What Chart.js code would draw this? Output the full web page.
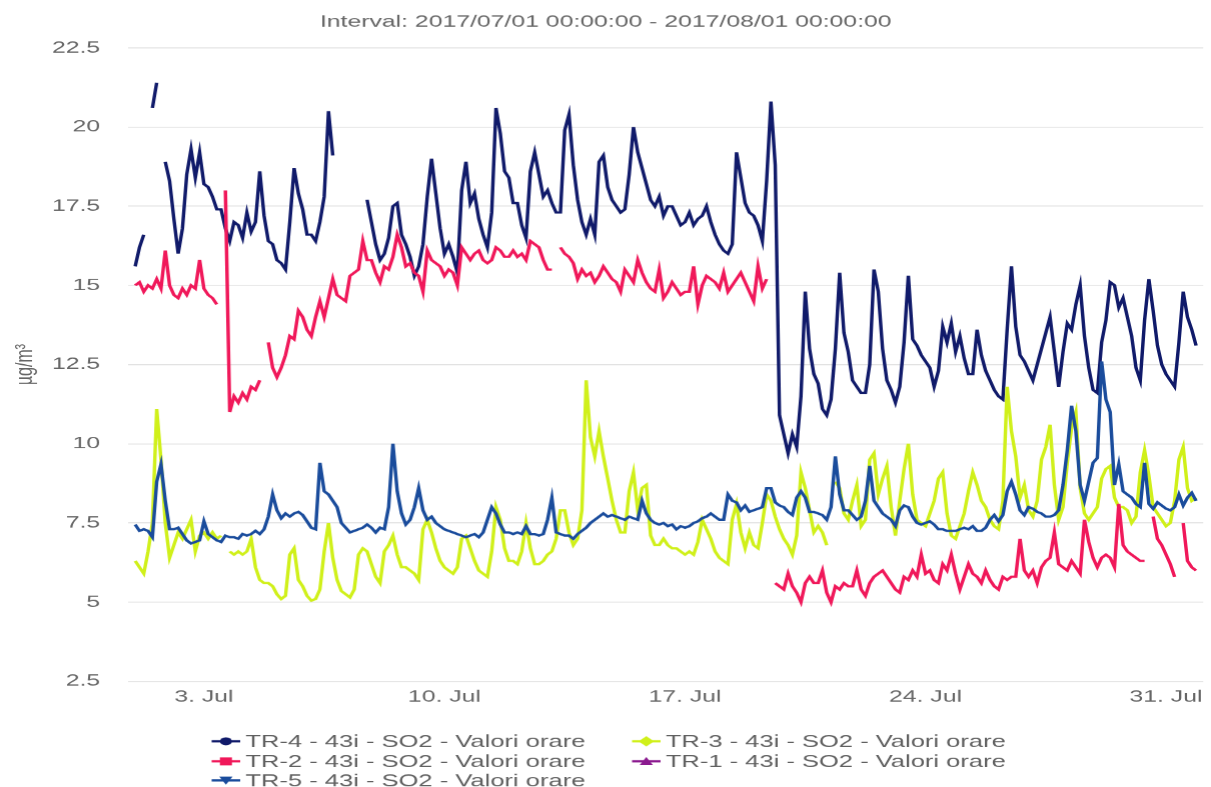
<!DOCTYPE html>
<html>
<head>
<meta charset="utf-8">
<script src="https://cdn.jsdelivr.net/npm/chart.js@4.4.0/dist/chart.umd.min.js"></script>
<style>
html,body{margin:0;padding:0;background:#fff;overflow:hidden;width:1211px;height:787px}
#stage{position:absolute;left:0;top:0;width:807px;height:787px;transform:scaleX(1.50062);transform-origin:0 0}
</style>
</head>
<body>
<div id="stage"><canvas id="chart" width="807" height="787"></canvas></div>
<script>
// ---------- data (3-hour readings, July 2017) ----------
const chartTitle = 'Interval: 2017/07/01 00:00:00 - 2017/08/01 00:00:00';
const yAxisTitle = 'µg/m³';
const stepHours = 3;
const xTickHours = [48, 216, 384, 552, 720];
const xTickLabels = ['3. Jul', '10. Jul', '17. Jul', '24. Jul', '31. Jul'];
const yTickValues = [2.5, 5, 7.5, 10, 12.5, 15, 17.5, 20, 22.5];
const yTickLabels = ['2.5', '5', '7.5', '10', '12.5', '15', '17.5', '20', '22.5'];

const seriesNames = [
  'TR-4 - 43i - SO2 - Valori orare',
  'TR-3 - 43i - SO2 - Valori orare',
  'TR-2 - 43i - SO2 - Valori orare',
  'TR-1 - 43i - SO2 - Valori orare',
  'TR-5 - 43i - SO2 - Valori orare'
];
const seriesColors = ['#101a6a', '#d0f01a', '#f0185a', '#8b1a8f', '#1a4c9c'];
const seriesMarkers = ['circle', 'rectRot', 'rect', 'triangle', 'triangleDown'];

const tr4 = [
  15.6,16.2,16.6,null,20.6,21.4,null,18.9,
  18.3,17.1,16.0,16.8,18.5,19.3,18.4,19.2,
  18.2,18.1,17.8,17.4,17.4,16.8,16.4,17.0,
  16.9,16.5,17.3,16.7,17.0,18.6,17.2,16.4,
  16.3,15.8,15.7,15.5,17.0,18.7,17.9,17.4,
  16.6,16.6,16.4,17.0,17.8,20.5,19.1,null,
  null,null,null,null,null,null,17.7,17.0,
  16.3,15.8,16.0,16.5,17.5,17.6,16.6,16.3,
  15.9,15.3,15.6,16.3,17.8,19.0,17.9,16.8,
  16.0,16.3,15.9,15.4,18.0,18.9,17.6,17.9,
  17.1,16.6,16.2,17.3,20.6,19.8,18.6,18.4,
  17.6,17.6,16.9,16.5,18.6,19.2,18.5,17.8,
  18.0,17.6,17.3,17.3,19.9,20.4,18.8,17.7,
  17.0,16.6,17.1,16.6,18.9,19.1,18.1,17.7,
  17.5,17.3,17.4,18.5,20.0,19.2,18.7,18.2,
  17.7,17.5,17.8,17.2,17.5,17.5,17.2,16.9,
  17.0,17.3,16.9,17.1,17.2,17.5,17.0,16.6,
  16.3,16.1,16.0,16.3,19.2,18.4,17.6,17.3,
  17.2,16.9,16.4,18.3,20.8,18.8,10.9,10.3,
  9.7,10.3,9.9,11.5,14.8,13.0,12.2,11.9,
  11.1,10.9,11.4,13.0,15.4,13.5,12.9,12.0,
  11.8,11.6,11.6,12.5,15.5,14.8,13.0,12.0,
  11.7,11.3,11.8,13.2,15.3,13.3,13.1,12.8,
  12.6,12.4,11.8,12.3,13.7,13.2,13.8,12.9,
  13.4,12.7,12.2,12.2,13.6,12.8,12.3,12.0,
  11.7,11.5,11.4,13.6,15.6,13.7,12.8,12.6,
  12.3,12.0,12.5,13.0,13.5,14.0,12.9,11.8,
  12.9,13.8,13.6,14.4,15.0,13.4,12.4,11.7,
  11.6,13.2,13.9,15.1,15.0,14.3,14.6,14.0,
  13.4,12.4,12.0,13.9,15.2,14.2,13.1,12.5,
  12.2,12.0,11.8,13.2,14.8,14.0,13.6,13.1
];

const tr3 = [
  6.3,6.1,5.9,6.6,7.5,11.1,9.5,7.5,
  6.4,6.8,7.2,7.0,7.3,7.6,6.6,7.1,
  7.2,7.0,7.2,7.0,7.1,null,6.6,6.5,
  6.6,6.5,6.6,7.0,6.1,5.7,5.6,5.6,
  5.5,5.25,5.1,5.2,6.5,6.7,5.7,5.5,
  5.2,5.05,5.1,5.4,6.6,7.5,6.4,5.7,
  5.35,5.25,5.15,5.4,6.5,6.7,6.6,6.2,
  5.8,5.6,6.6,6.8,7.1,6.5,6.1,6.1,
  6.0,5.9,5.7,7.3,7.6,7.2,6.7,6.3,
  6.1,6.0,5.9,6.1,7.0,7.1,6.7,6.3,
  6.0,5.9,5.8,6.6,8.0,7.6,6.7,6.3,
  6.3,6.2,6.6,7.5,6.7,6.2,6.2,6.3,
  6.5,6.6,7.0,7.9,7.9,7.2,6.8,7.0,
  7.9,12.0,10.2,9.6,10.4,9.6,8.9,8.2,
  7.6,7.2,7.2,8.5,9.1,7.9,8.6,8.7,
  7.1,6.8,6.8,7.0,6.8,6.7,6.7,6.6,
  6.5,6.6,6.5,6.9,7.6,7.3,7.0,6.6,
  6.4,6.3,6.2,7.6,8.1,7.2,6.7,7.2,
  6.8,6.7,7.5,8.4,8.2,7.7,7.3,7.0,
  6.8,6.5,7.1,9.1,8.6,7.9,7.2,7.4,
  7.2,6.8,null,8.8,8.6,7.8,7.6,8.2,
  8.7,7.4,7.6,9.5,9.7,8.4,8.9,9.3,
  8.0,7.1,8.2,9.2,10.0,8.4,7.6,7.5,
  7.4,7.8,8.2,8.9,9.1,7.8,7.1,7.0,
  7.4,7.8,8.5,9.1,8.7,8.2,8.0,7.6,
  7.4,7.3,8.2,11.8,10.4,9.6,8.3,8.7,
  7.9,7.7,8.2,9.5,9.9,10.6,8.7,7.6,
  8.0,9.4,10.5,11.0,8.6,7.8,7.6,7.8,
  8.0,8.9,9.2,9.3,8.3,8.0,8.0,7.9,
  7.5,7.7,9.1,9.8,9.0,8.0,7.8,7.6,
  7.4,7.5,8.2,9.5,9.9,8.6,8.2,8.3
];

const tr2 = [
  15.0,15.1,14.8,15.0,14.9,15.2,14.9,16.1,
  15.0,14.7,14.6,14.9,14.7,15.0,14.9,15.8,
  14.9,14.7,14.6,14.4,null,18.0,11.0,11.5,
  11.3,11.6,11.4,11.8,11.7,12.0,null,13.2,
  12.4,12.1,12.4,12.8,13.4,13.3,14.2,14.0,
  13.6,13.4,14.0,14.5,14.0,14.6,15.2,14.7,
  14.6,14.5,15.3,15.4,15.5,16.4,15.8,15.8,
  15.4,15.1,15.6,15.5,15.9,16.6,16.2,15.6,
  15.7,15.4,15.3,14.8,16.1,15.8,15.7,15.6,
  15.3,15.5,15.4,15.0,16.2,16.0,15.8,16.0,
  16.1,15.8,15.7,15.8,16.2,16.1,15.9,15.9,
  16.1,15.9,16.0,15.8,16.4,16.3,16.2,15.8,
  15.5,15.5,null,16.2,16.0,15.9,15.7,15.2,
  15.5,15.3,15.4,15.1,15.3,15.6,15.4,15.2,
  15.1,14.8,15.5,15.3,15.1,15.8,15.4,15.1,
  14.9,14.8,15.5,14.6,14.8,15.1,14.9,14.7,
  14.8,14.8,15.6,14.4,15.0,15.3,15.2,15.1,
  14.9,15.4,14.8,15.0,15.2,15.4,15.1,14.8,
  14.5,15.6,14.9,15.2,null,5.6,5.5,5.4,
  5.9,5.5,5.3,5.0,5.6,5.8,5.6,5.6,
  6.0,5.3,5.0,5.5,5.4,5.6,5.5,5.5,
  6.0,5.4,5.2,5.6,5.8,5.9,6.0,5.8,
  5.6,5.4,5.3,5.8,5.7,6.0,5.8,6.5,
  5.9,6.0,5.7,5.6,6.2,6.0,6.5,5.9,
  5.4,5.8,6.2,5.9,5.8,5.6,6.0,5.7,
  5.5,5.4,5.8,5.7,5.8,5.8,7.0,6.0,
  5.8,6.0,5.6,6.1,6.3,6.4,7.2,6.2,
  6.1,6.0,6.3,6.1,5.9,7.6,6.9,6.4,
  6.1,6.4,6.5,6.4,6.1,8.1,6.8,6.6,
  6.5,6.4,6.3,6.3,null,7.7,7.0,6.8,
  6.5,6.2,5.8,null,7.5,6.3,6.1,6.0
];

const tr1 = [];

const tr5 = [
  7.45,7.25,7.3,7.25,7.05,8.8,9.35,8.2,
  7.3,7.3,7.35,7.15,6.95,6.85,6.9,6.95,
  7.55,7.15,7.05,6.95,6.9,7.1,7.05,7.05,
  7.0,7.15,7.1,7.15,7.25,7.15,7.3,7.7,
  8.4,7.9,7.65,7.8,7.7,7.8,7.85,7.75,
  7.55,7.35,7.3,9.4,8.5,8.4,8.2,8.0,
  7.5,7.35,7.2,7.25,7.3,7.35,7.45,7.35,
  7.2,7.35,7.3,8.0,10.0,8.5,7.8,7.45,
  7.6,8.0,8.6,7.9,7.6,7.7,7.5,7.4,
  7.3,7.25,7.2,7.15,7.1,7.05,7.1,7.15,
  7.05,7.2,7.6,8.0,7.8,7.45,7.2,7.2,
  7.15,7.2,7.15,7.4,7.15,7.15,7.1,7.15,
  7.6,8.3,7.2,7.15,7.1,7.1,7.0,7.15,
  7.25,7.35,7.5,7.6,7.7,7.8,7.7,7.75,
  7.7,7.65,7.6,7.7,7.65,7.6,8.2,7.8,
  7.6,7.5,7.45,7.5,7.4,7.45,7.3,7.4,
  7.35,7.4,7.5,7.55,7.65,7.7,7.8,7.7,
  7.6,7.6,8.4,8.2,8.15,7.9,8.05,7.85,
  7.9,7.95,8.0,8.6,8.6,8.15,8.05,8.0,
  7.85,7.75,8.3,8.5,8.3,7.85,7.85,7.8,
  7.75,7.6,8.0,9.6,8.4,7.9,7.9,7.75,
  7.6,7.7,8.2,9.3,8.2,8.0,7.8,7.7,
  7.6,7.4,7.9,8.05,8.0,7.7,7.5,7.45,
  7.5,7.55,7.45,7.3,7.3,7.25,7.25,7.25,
  7.3,7.35,7.3,7.4,7.25,7.25,7.35,7.6,
  7.75,7.55,7.75,8.5,8.8,8.4,7.9,7.75,
  8.0,7.95,7.85,7.8,7.7,7.7,7.75,7.9,
  8.7,9.8,11.2,10.4,8.7,8.2,8.8,9.4,
  9.55,12.6,11.4,11.0,8.7,9.35,8.5,8.4,
  8.3,8.1,8.0,9.4,8.1,7.95,8.15,8.05,
  7.95,7.9,8.0,8.4,8.05,8.3,8.45,8.2
];

const seriesValues = [tr4, tr3, tr2, tr1, tr5];
const drawOrder = [5, 4, 3, 2, 1]; // TR-5 drawn on top, TR-4 underneath

// ---------- chart ----------
const FONT = '"Liberation Sans", Arial, Helvetica, sans-serif';
const TEXT = '#666666';

function toPoints(vals) {
  return vals.map((v, i) => ({ x: i * stepHours, y: v }));
}

function drawMarker(ctx, style, x, y, r) {
  ctx.beginPath();
  if (style === 'circle') {
    ctx.arc(x, y, r, 0, Math.PI * 2);
  } else if (style === 'rect') {
    ctx.rect(x - r, y - r, 2 * r, 2 * r);
  } else if (style === 'rectRot') {
    const d = r * 1.3;
    ctx.moveTo(x, y - d); ctx.lineTo(x + d, y); ctx.lineTo(x, y + d); ctx.lineTo(x - d, y); ctx.closePath();
  } else if (style === 'triangle') {
    ctx.moveTo(x, y - r * 1.1); ctx.lineTo(x + r * 1.1, y + r * 0.9); ctx.lineTo(x - r * 1.1, y + r * 0.9); ctx.closePath();
  } else if (style === 'triangleDown') {
    ctx.moveTo(x, y + r * 1.1); ctx.lineTo(x + r * 1.1, y - r * 0.9); ctx.lineTo(x - r * 1.1, y - r * 0.9); ctx.closePath();
  }
  ctx.fill();
}

const twoColumnLegend = {
  id: 'twoColumnLegend',
  afterDraw(chart) {
    const ctx = chart.ctx;
    const colX = [141, 421];      // symbol start per column
    const rowY = [741, 761, 780]; // row centres
    ctx.save();
    chart.data.datasets.forEach((ds, i) => {
      const col = i % 2, row = Math.floor(i / 2);
      const x0 = colX[col], y = rowY[row];
      ctx.strokeStyle = ds.borderColor;
      ctx.fillStyle = ds.borderColor;
      ctx.lineWidth = 2.3;
      ctx.beginPath();
      ctx.moveTo(x0, y); ctx.lineTo(x0 + 19, y);
      ctx.stroke();
      drawMarker(ctx, ds.legendMarker, x0 + 9.5, y, 4);
      ctx.fillStyle = '#606060';
      ctx.font = '17px ' + FONT;
      ctx.textBaseline = 'middle';
      ctx.textAlign = 'left';
      ctx.fillText(ds.label, x0 + 22.5, y + 1);
    });
    ctx.restore();
  }
};

const datasets = seriesNames.map((name, k) => ({
  label: name,
  data: toPoints(seriesValues[k]),
  borderColor: seriesColors[k],
  backgroundColor: seriesColors[k],
  borderWidth: 2.3,
  pointRadius: 0,
  tension: 0,
  spanGaps: false,
  fill: false,
  order: drawOrder[k],
  legendMarker: seriesMarkers[k]
}));

new Chart(document.getElementById('chart'), {
  type: 'line',
  data: { datasets },
  options: {
    responsive: false,
    animation: false,
    devicePixelRatio: 1.5,
    layout: { padding: { left: 0, right: 0, top: 0, bottom: 74.2 } },
    plugins: {
      legend: { display: false },
      tooltip: { enabled: false },
      title: {
        display: true,
        text: chartTitle,
        color: TEXT,
        font: { family: FONT, size: 16.5, weight: 'normal' },
        padding: { top: 12, bottom: 16 }
      }
    },
    scales: {
      x: {
        type: 'linear',
        min: -5,
        max: 746,
        grid: { display: false, drawTicks: false },
        border: { display: false },
        afterBuildTicks: s => { s.ticks = xTickHours.map(v => ({ value: v })); },
        ticks: {
          autoSkip: false,
          maxRotation: 0,
          padding: 6,
          color: TEXT,
          font: { family: FONT, size: 16.5 },
          callback: (v, i) => xTickLabels[i]
        }
      },
      y: {
        min: 2.5,
        max: 22.5,
        afterBuildTicks: s => { s.ticks = yTickValues.map(v => ({ value: v })); },
        afterFit: s => { s.width = 85.3; },
        grid: { color: '#e2e2e2', lineWidth: 1, drawTicks: false },
        border: { display: false },
        ticks: {
          padding: 18.6,
          color: TEXT,
          font: { family: FONT, size: 16.5 },
          callback: (v, i) => yTickLabels[i]
        },
        title: {
          display: true,
          text: yAxisTitle,
          color: TEXT,
          font: { family: FONT, size: 16 },
          padding: { top: 7, bottom: 0 }
        }
      }
    }
  },
  plugins: [twoColumnLegend]
});
</script>
</body>
</html>
